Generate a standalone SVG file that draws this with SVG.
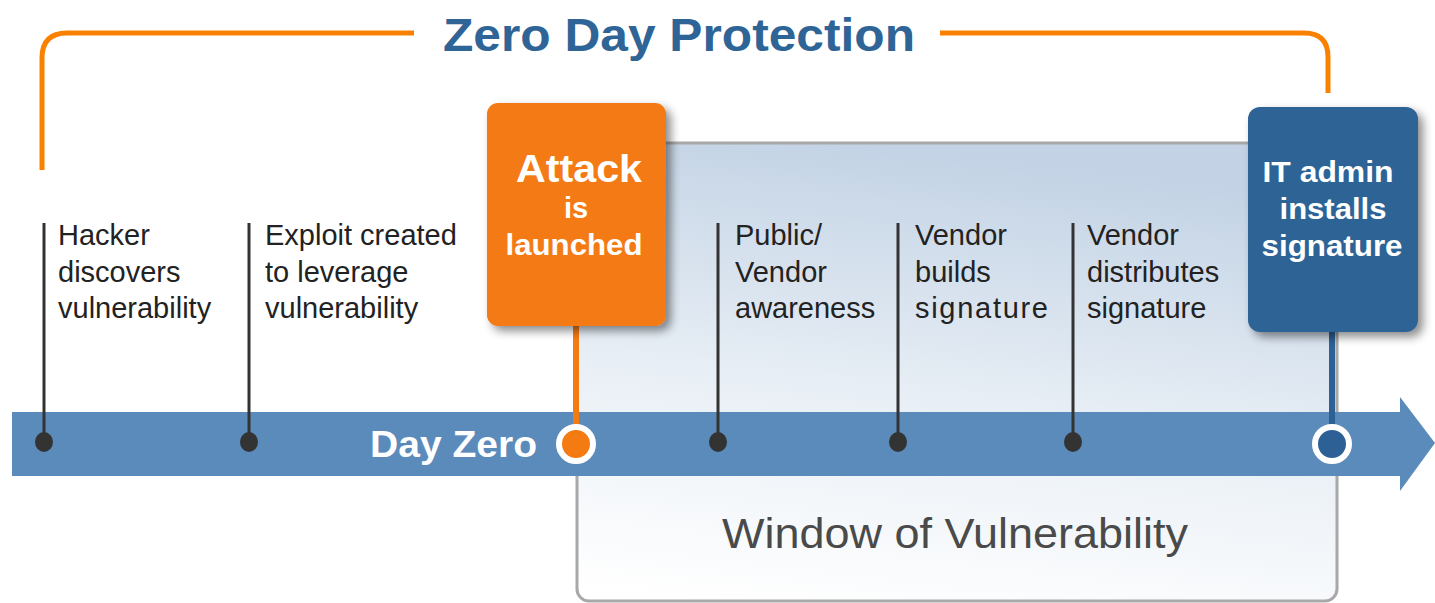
<svg xmlns="http://www.w3.org/2000/svg" width="1435" height="603" viewBox="0 0 1435 603">
<defs>
<linearGradient id="win" x1="0.35" y1="0" x2="0.15" y2="1">
<stop offset="0" stop-color="#C3D3E5"/>
<stop offset="0.55" stop-color="#EAF0F6"/>
<stop offset="1" stop-color="#FFFFFF"/>
</linearGradient>
<filter id="sh" x="-20%" y="-20%" width="150%" height="150%">
<feDropShadow dx="5" dy="5" stdDeviation="5" flood-color="#000" flood-opacity="0.45"/>
</filter>
</defs>
<style>
.lbl{font-family:"Liberation Sans",Arial,sans-serif;font-size:29px;fill:#222;}
.stem{stroke:#333;stroke-width:3;fill:none;}
.dot{fill:#333;}
.wt{font-family:"Liberation Sans",Arial,sans-serif;fill:#fff;font-weight:bold;text-anchor:middle;}
</style>
<rect width="1435" height="603" fill="#fff"/>

<g id="window">
<rect x="577" y="143" width="760" height="458" rx="12" fill="url(#win)" stroke="#A8A8A8" stroke-width="3"/>
<text x="722" y="548" font-family="'Liberation Sans',Arial,sans-serif" font-size="42" fill="#4A4A4A" textLength="466" lengthAdjust="spacingAndGlyphs">Window of Vulnerability</text>
</g>

<g id="bracket">
<path d="M42 170 V58 Q42 33 67 33 H414" fill="none" stroke="#FA8100" stroke-width="5"/>
<path d="M940 33 H1304 Q1328 33 1328 57 V93" fill="none" stroke="#FA8100" stroke-width="5"/>
<text x="443" y="51" font-family="'Liberation Sans',Arial,sans-serif" font-size="46" font-weight="bold" fill="#2F6496" textLength="472" lengthAdjust="spacingAndGlyphs">Zero Day Protection</text>
</g>

<g id="timeline">
<path d="M12 412 H1400 V397 L1435 443 L1400 491 V476 H12 Z" fill="#5B8BBB"/>
<text x="537" y="457" font-family="'Liberation Sans',Arial,sans-serif" font-size="37" font-weight="bold" fill="#fff" text-anchor="end" textLength="167" lengthAdjust="spacingAndGlyphs">Day Zero</text>
</g>

<g id="connectors">
<line class="stem" x1="44" y1="223" x2="44" y2="442"/>
<line class="stem" x1="249" y1="223" x2="249" y2="442"/>
<line class="stem" x1="718" y1="223" x2="718" y2="442"/>
<line class="stem" x1="898" y1="223" x2="898" y2="442"/>
<line class="stem" x1="1073" y1="223" x2="1073" y2="442"/>
<line x1="576" y1="320" x2="576" y2="440" stroke="#F47A12" stroke-width="6"/>
<line x1="1332" y1="325" x2="1332" y2="440" stroke="#2D6195" stroke-width="6"/>
</g>

<g id="n-hacker">
<ellipse class="dot" cx="44" cy="442" rx="9" ry="10"/>
<text class="lbl" x="58" y="245">Hacker</text>
<text class="lbl" x="58" y="282">discovers</text>
<text class="lbl" x="58" y="318">vulnerability</text>
</g>
<g id="n-exploit">
<ellipse class="dot" cx="249" cy="442" rx="9" ry="10" fill="#111"/>
<text class="lbl" x="265" y="245">Exploit created</text>
<text class="lbl" x="265" y="282">to leverage</text>
<text class="lbl" x="265" y="318">vulnerability</text>
</g>
<g id="n-attack">
<rect x="487" y="103" width="179" height="223" rx="11" fill="#F47A12" filter="url(#sh)"/>
<text class="wt" x="579" y="182" font-size="38" textLength="126" lengthAdjust="spacingAndGlyphs">Attack</text>
<text class="wt" x="576" y="218" font-size="29">is</text>
<text class="wt" x="574" y="255" font-size="30" textLength="137" lengthAdjust="spacingAndGlyphs">launched</text>
<circle cx="576" cy="444" r="17" fill="#F47A12" stroke="#fff" stroke-width="6"/>
</g>
<g id="n-public">
<ellipse class="dot" cx="718" cy="442" rx="9" ry="10"/>
<text class="lbl" x="735" y="245">Public/</text>
<text class="lbl" x="735" y="282">Vendor</text>
<text class="lbl" x="735" y="318">awareness</text>
</g>
<g id="n-builds">
<ellipse class="dot" cx="898" cy="442" rx="9" ry="10"/>
<text class="lbl" x="915" y="245">Vendor</text>
<text class="lbl" x="915" y="282">builds</text>
<text class="lbl" x="915" y="318" textLength="133" lengthAdjust="spacing">signature</text>
</g>
<g id="n-distributes">
<ellipse class="dot" cx="1073" cy="442" rx="9" ry="10"/>
<text class="lbl" x="1087" y="245">Vendor</text>
<text class="lbl" x="1087" y="282">distributes</text>
<text class="lbl" x="1087" y="318">signature</text>
</g>
<g id="n-itadmin">
<rect x="1248" y="107" width="170" height="225" rx="12" fill="#2F6496" filter="url(#sh)"/>
<text class="wt" x="1328" y="182" font-size="30" textLength="131" lengthAdjust="spacingAndGlyphs">IT admin</text>
<text class="wt" x="1333" y="219" font-size="30" textLength="107" lengthAdjust="spacingAndGlyphs">installs</text>
<text class="wt" x="1332" y="256" font-size="30" textLength="141" lengthAdjust="spacingAndGlyphs">signature</text>
<circle cx="1332" cy="444" r="17" fill="#2D6195" stroke="#fff" stroke-width="6"/>
</g>
</svg>
